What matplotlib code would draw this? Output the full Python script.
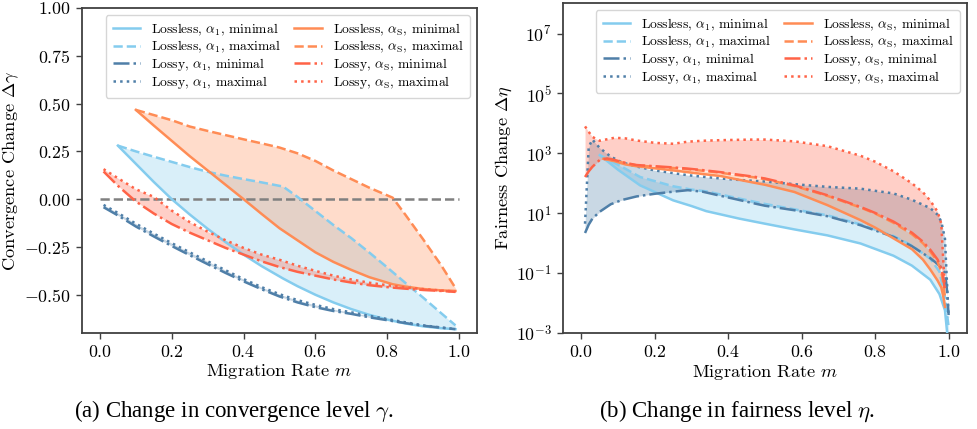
import numpy as np
import matplotlib
matplotlib.use("Agg")
import matplotlib.pyplot as plt
from matplotlib.ticker import FixedLocator, NullLocator

plt.rcParams['font.family'] = ['cmr10', 'DejaVu Sans']
plt.rcParams['mathtext.fontset'] = 'cm'
plt.rcParams['axes.formatter.use_mathtext'] = True
plt.rcParams['axes.unicode_minus'] = True

# ---------------- colours ----------------
C_LOSSLESS_A1 = '#84CCEE'
C_LOSSY_A1 = '#4F7FA8'
C_LOSSLESS_AS = '#FF8C55'
C_LOSSY_AS = '#FF6347'

labels = [
    r'Lossless, $\alpha_1$, minimal', r'Lossless, $\alpha_1$, maximal',
    r'Lossy, $\alpha_1$, minimal', r'Lossy, $\alpha_1$, maximal',
    r'Lossless, $\alpha_\mathrm{S}$, minimal', r'Lossless, $\alpha_\mathrm{S}$, maximal',
    r'Lossy, $\alpha_\mathrm{S}$, minimal', r'Lossy, $\alpha_\mathrm{S}$, maximal',
]

# ---------------- (a) convergence change ----------------
conv_m_lossless_a1 = [0.05, 0.1, 0.15, 0.2, 0.25, 0.3, 0.35, 0.4, 0.45, 0.51, 0.55,
                      0.6, 0.65, 0.7, 0.75, 0.8, 0.85, 0.9, 0.95, 0.99]
conv_lossless_a1_min = [0.28, 0.185, 0.09, 0.0, -0.08, -0.155, -0.225, -0.29, -0.35, -0.415,
                        -0.455, -0.50, -0.54, -0.575, -0.605, -0.63, -0.65, -0.665, -0.675, -0.68]
conv_lossless_a1_max = [0.28, 0.25, 0.222, 0.195, 0.168, 0.143, 0.123, 0.105, 0.088, 0.066,
                        0.012, -0.062, -0.135, -0.204, -0.279, -0.357, -0.437, -0.515, -0.596, -0.66]

conv_m_lossless_as = [0.1, 0.15, 0.2, 0.25, 0.3, 0.35, 0.4, 0.45, 0.5, 0.55, 0.6, 0.65,
                      0.7, 0.75, 0.815, 0.85, 0.9, 0.95, 0.99]
conv_lossless_as_min = [0.467, 0.385, 0.305, 0.225, 0.15, 0.075, 0.0, -0.077, -0.152, -0.215,
                        -0.278, -0.328, -0.37, -0.408, -0.445, -0.457, -0.47, -0.477, -0.48]
conv_lossless_as_max = [0.467, 0.44, 0.413, 0.38, 0.357, 0.335, 0.313, 0.292, 0.27, 0.24,
                        0.20, 0.15, 0.105, 0.06, 0.008, -0.08, -0.21, -0.345, -0.465]

conv_m_lossy = [0.01, 0.05, 0.1, 0.15, 0.2, 0.25, 0.3, 0.35, 0.4, 0.45, 0.5, 0.55, 0.6,
                0.65, 0.7, 0.75, 0.8, 0.85, 0.9, 0.95, 0.99]
conv_lossy_a1_min = [-0.042, -0.085, -0.143, -0.195, -0.245, -0.293, -0.34, -0.386, -0.43,
                     -0.471, -0.509, -0.54, -0.565, -0.585, -0.60, -0.618, -0.633, -0.648,
                     -0.662, -0.672, -0.68]
conv_lossy_a1_max = [-0.03, -0.072, -0.128, -0.18, -0.23, -0.278, -0.325, -0.372, -0.418,
                     -0.46, -0.497, -0.528, -0.553, -0.575, -0.592, -0.61, -0.627, -0.644,
                     -0.66, -0.671, -0.68]
conv_lossy_as_min = [0.145, 0.07, -0.012, -0.075, -0.13, -0.175, -0.215, -0.255, -0.29,
                     -0.325, -0.355, -0.38, -0.40, -0.42, -0.436, -0.45, -0.46, -0.468,
                     -0.475, -0.48, -0.485]
conv_lossy_as_max = [0.157, 0.11, 0.052, 0.012, -0.06, -0.12, -0.17, -0.215, -0.255, -0.29,
                     -0.317, -0.348, -0.375, -0.40, -0.42, -0.437, -0.45, -0.462, -0.47,
                     -0.478, -0.483]

# ---------------- (b) fairness change (log10 of the value) ----------------
fair_m_lossless_a1 = [0.05, 0.1, 0.16, 0.25, 0.3, 0.34, 0.43, 0.5, 0.58, 0.67, 0.76, 0.85,
                      0.9, 0.95, 0.975, 0.99, 1.0]
fair_lossless_a1_min_log10 = [2.94, 2.45, 1.93, 1.43, 1.24, 1.07, 0.82, 0.65, 0.46, 0.26,
                              -0.01, -0.42, -0.75, -1.22, -1.7, -2.24, -3.5]
fair_lossless_a1_max_log10 = [2.94, 2.62, 2.21, 1.90, 1.79, 1.73, 1.49, 1.31, 1.13, 0.93,
                              0.63, 0.24, -0.08, -0.52, -0.95, -1.8, -2.8]

fair_m_lossy_a1 = [0.01, 0.02, 0.03, 0.05, 0.08, 0.11, 0.15, 0.2, 0.25, 0.29, 0.33, 0.38,
                   0.42, 0.47, 0.5, 0.58, 0.67, 0.76, 0.85, 0.9, 0.95, 0.97, 0.98, 0.99,
                   0.995, 1.0]
fair_lossy_a1_min_log10 = [0.34, 0.62, 0.82, 1.05, 1.30, 1.44, 1.56, 1.65, 1.72, 1.77, 1.72,
                           1.58, 1.47, 1.33, 1.25, 1.10, 0.90, 0.60, 0.21, -0.10, -0.50,
                           -0.70, -0.82, -1.0, -1.5, -2.4]
fair_lossy_a1_max_log10 = [0.65, 3.21, 3.46, 3.18, 2.89, 2.70, 2.56, 2.43, 2.34, 2.27, 2.22,
                           2.16, 2.12, 2.08, 2.06, 1.97, 1.88, 1.82, 1.66, 1.45, 1.17, 0.95,
                           0.72, 0.15, -1.2, -2.47]

fair_m_lossless_as = [0.06, 0.09, 0.12, 0.15, 0.2, 0.25, 0.29, 0.33, 0.38, 0.42, 0.47, 0.5,
                      0.58, 0.67, 0.76, 0.8, 0.85, 0.9, 0.93, 0.95, 0.97, 0.98, 0.985, 0.99]
fair_lossless_as_min_log10 = [2.82, 2.74, 2.63, 2.57, 2.50, 2.43, 2.37, 2.31, 2.24, 2.14, 2.02,
                              1.95, 1.71, 1.27, 0.77, 0.52, 0.16, -0.20, -0.55, -0.88, -1.25,
                              -1.48, -1.75, -2.13]
fair_lossless_as_max_log10 = [2.82, 2.76, 2.67, 2.60, 2.55, 2.51, 2.47, 2.42, 2.35, 2.28, 2.20,
                              2.14, 1.91, 1.58, 1.19, 0.99, 0.68, 0.30, 0.0, -0.28, -0.62,
                              -0.95, -1.3, -1.8]

fair_m_lossy_as = [0.01, 0.02, 0.03, 0.05, 0.07, 0.09, 0.12, 0.15, 0.2, 0.25, 0.29, 0.33,
                   0.38, 0.42, 0.47, 0.5, 0.58, 0.67, 0.76, 0.8, 0.85, 0.9, 0.93, 0.95,
                   0.97, 0.98, 0.985, 0.99]
fair_lossy_as_min_log10 = [2.21, 2.40, 2.55, 2.78, 2.83, 2.78, 2.68, 2.61, 2.57, 2.53, 2.49,
                           2.44, 2.37, 2.30, 2.22, 2.16, 1.93, 1.60, 1.21, 1.01, 0.72, 0.35,
                           0.05, -0.22, -0.55, -0.85, -1.1, -1.6]
fair_lossy_as_max_log10 = [3.9, 3.72, 3.55, 3.42, 3.47, 3.52, 3.50, 3.43, 3.35, 3.32, 3.39,
                           3.42, 3.44, 3.45, 3.46, 3.46, 3.40, 3.24, 2.92, 2.72, 2.40, 2.0,
                           1.70, 1.42, 1.05, 0.65, -0.5, -1.5]

LW = 1.8
FILL_ALPHA = 0.3


def draw_pairs(ax, pairs):
    for m, lo, hi, color, _, _ in pairs:
        ax.fill_between(m, lo, hi, color=color, alpha=FILL_ALPHA, linewidth=0, zorder=1)
    handles = []
    for m, lo, hi, color, (ls_lo, ls_hi), (lab_lo, lab_hi) in pairs:
        h1, = ax.plot(m, lo, color=color, ls=ls_lo, lw=LW, label=lab_lo, zorder=3)
        h2, = ax.plot(m, hi, color=color, ls=ls_hi, lw=LW, label=lab_hi, zorder=3)
        handles += [h1, h2]
    return handles


def style_axes(ax):
    for s in ax.spines.values():
        s.set_color('#404040')
        s.set_linewidth(1.3)
    ax.tick_params(axis='both', which='major', labelsize=12.8, length=4, width=1.0,
                   color='#404040', direction='out', pad=4)
    ax.set_xlim(-0.05, 1.05)
    ax.set_xticks([0.0, 0.2, 0.4, 0.6, 0.8, 1.0])
    ax.set_xlabel(r'Migration Rate $m$', fontsize=13.2)


fig = plt.figure(figsize=(9.77, 4.29), dpi=100)
axA = fig.add_axes([82 / 977, 96 / 429, 395 / 977, 325 / 429])
axB = fig.add_axes([563 / 977, 96 / 429, 404 / 977, 330 / 429])

# ---- panel (a)
pairsA = [
    (conv_m_lossless_a1, conv_lossless_a1_min, conv_lossless_a1_max, C_LOSSLESS_A1,
     ('-', '--'), (labels[0], labels[1])),
    (conv_m_lossy, conv_lossy_a1_min, conv_lossy_a1_max, C_LOSSY_A1,
     ('-.', ':'), (labels[2], labels[3])),
    (conv_m_lossless_as, conv_lossless_as_min, conv_lossless_as_max, C_LOSSLESS_AS,
     ('-', '--'), (labels[4], labels[5])),
    (conv_m_lossy, conv_lossy_as_min, conv_lossy_as_max, C_LOSSY_AS,
     ('-.', ':'), (labels[6], labels[7])),
]
axA.hlines(0, 0, 1, colors='#808080', linestyles='--', lw=LW, zorder=2)
hA = draw_pairs(axA, pairsA)
style_axes(axA)
axA.set_ylim(-0.7, 1.0)
axA.set_yticks([-0.5, -0.25, 0.0, 0.25, 0.5, 0.75, 1.0])
axA.set_ylabel(r'Convergence Change $\Delta\gamma$', fontsize=13.2)
axA.yaxis.set_label_coords(-0.155, 0.5)
axA.xaxis.set_label_coords(0.5, -0.09)

# ---- panel (b)
def p10(a):
    return 10.0 ** np.asarray(a)

pairsB = [
    (fair_m_lossless_a1, p10(fair_lossless_a1_min_log10), p10(fair_lossless_a1_max_log10),
     C_LOSSLESS_A1, ('-', '--'), (labels[0], labels[1])),
    (fair_m_lossy_a1, p10(fair_lossy_a1_min_log10), p10(fair_lossy_a1_max_log10),
     C_LOSSY_A1, ('-.', ':'), (labels[2], labels[3])),
    (fair_m_lossless_as, p10(fair_lossless_as_min_log10), p10(fair_lossless_as_max_log10),
     C_LOSSLESS_AS, ('-', '--'), (labels[4], labels[5])),
    (fair_m_lossy_as, p10(fair_lossy_as_min_log10), p10(fair_lossy_as_max_log10),
     C_LOSSY_AS, ('-.', ':'), (labels[6], labels[7])),
]
axB.set_yscale('log')
hB = draw_pairs(axB, pairsB)
style_axes(axB)
axB.set_ylim(1e-3, 1.05e8)
axB.yaxis.set_major_locator(FixedLocator([1e-3, 1e-1, 1e1, 1e3, 1e5, 1e7]))
axB.yaxis.set_minor_locator(NullLocator())
axB.set_ylabel(r'Fairness Change $\Delta\eta$', fontsize=13.2)
axB.yaxis.set_label_coords(-0.122, 0.5)
axB.xaxis.set_label_coords(0.5, -0.09)

for ax, hs in ((axA, hA), (axB, hB)):
    ax.legend(hs, labels, ncol=2, loc='upper right',
              fontsize=9.8, labelspacing=0.07, handlelength=2.0, handletextpad=0.8,
              columnspacing=1.0, borderpad=0.5, framealpha=0.8, edgecolor='#cccccc')

# captions
fig.text(234 / 977, 1 - 411 / 429, r'(a) Change in convergence level $\gamma$.',
         ha='center', va='center', fontsize=16.5, family=['Liberation Serif', 'DejaVu Serif'])
fig.text(737 / 977, 1 - 411 / 429, r'(b) Change in fairness level $\eta$.',
         ha='center', va='center', fontsize=16.5, family=['Liberation Serif', 'DejaVu Serif'])

fig.savefig('out.png', dpi=100)
